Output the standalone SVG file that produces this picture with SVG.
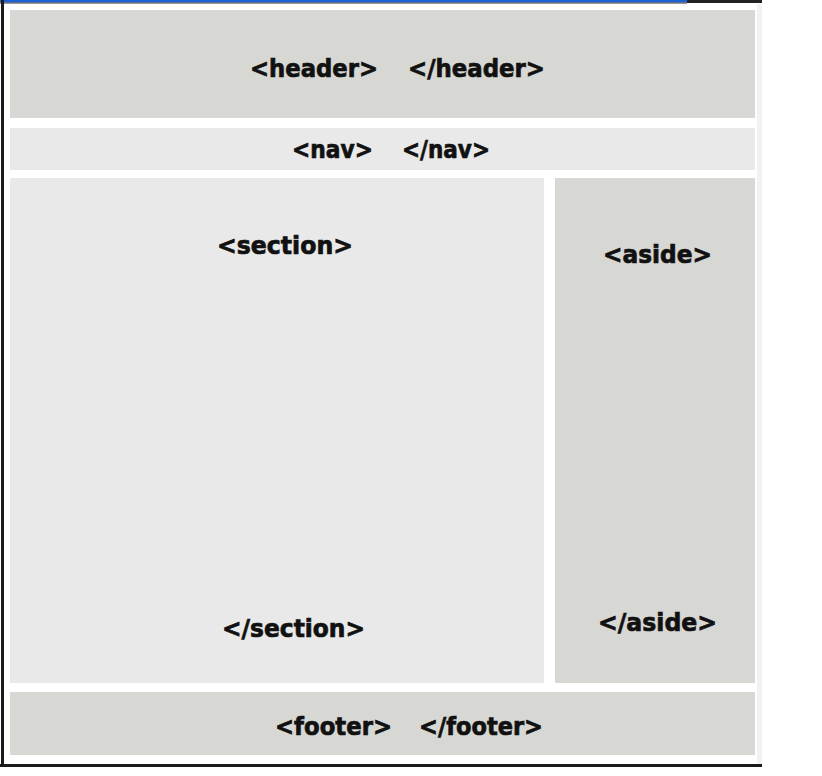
<svg xmlns="http://www.w3.org/2000/svg" width="822" height="776" viewBox="0 0 822 776">
<style>
.t{font-family:"DejaVu Sans","Liberation Sans",Arial,sans-serif;font-weight:bold;font-size:25px;fill:#111;stroke:#111;stroke-width:0.7}
.dark{fill:#d7d7d3}
.light{fill:#e9e9e9}
</style>
<rect x="0" y="0" width="822" height="776" fill="#ffffff"/>
<rect x="0" y="0" width="687" height="2.5" fill="#1f5fd6"/>
<rect x="687" y="0" width="75" height="3" fill="#222"/>
<rect x="0" y="2.5" width="687" height="1" fill="#333"/>
<rect x="1" y="0" width="3" height="767" fill="#1a1a1a"/>
<rect x="0" y="764" width="762" height="3" fill="#1a1a1a"/>
<rect x="757" y="4" width="5" height="760" fill="#f2f2f2"/>
<g id="header">
<rect class="dark" x="10" y="10" width="745" height="108"/>
<text class="t" x="250" y="77" textLength="128" lengthAdjust="spacingAndGlyphs">&lt;header&gt;</text>
<text class="t" x="408" y="77" textLength="137" lengthAdjust="spacingAndGlyphs">&lt;/header&gt;</text>
</g>
<g id="nav">
<rect class="light" x="10" y="128" width="745" height="42"/>
<text class="t" x="292" y="158" textLength="81" lengthAdjust="spacingAndGlyphs">&lt;nav&gt;</text>
<text class="t" x="402" y="158" textLength="88" lengthAdjust="spacingAndGlyphs">&lt;/nav&gt;</text>
</g>
<g id="section">
<rect class="light" x="10" y="178" width="534" height="505"/>
<text class="t" x="217" y="254" textLength="136" lengthAdjust="spacingAndGlyphs">&lt;section&gt;</text>
<text class="t" x="222" y="637" textLength="143" lengthAdjust="spacingAndGlyphs">&lt;/section&gt;</text>
</g>
<g id="aside">
<rect class="dark" x="555" y="178" width="200" height="505"/>
<text class="t" x="603" y="263" textLength="109" lengthAdjust="spacingAndGlyphs">&lt;aside&gt;</text>
<text class="t" x="598" y="631" textLength="119" lengthAdjust="spacingAndGlyphs">&lt;/aside&gt;</text>
</g>
<g id="footer">
<rect class="dark" x="10" y="692" width="745" height="63"/>
<text class="t" x="275" y="735" textLength="117" lengthAdjust="spacingAndGlyphs">&lt;footer&gt;</text>
<text class="t" x="419" y="735" textLength="124" lengthAdjust="spacingAndGlyphs">&lt;/footer&gt;</text>
</g>
<g id="connectors"></g>
</svg>
